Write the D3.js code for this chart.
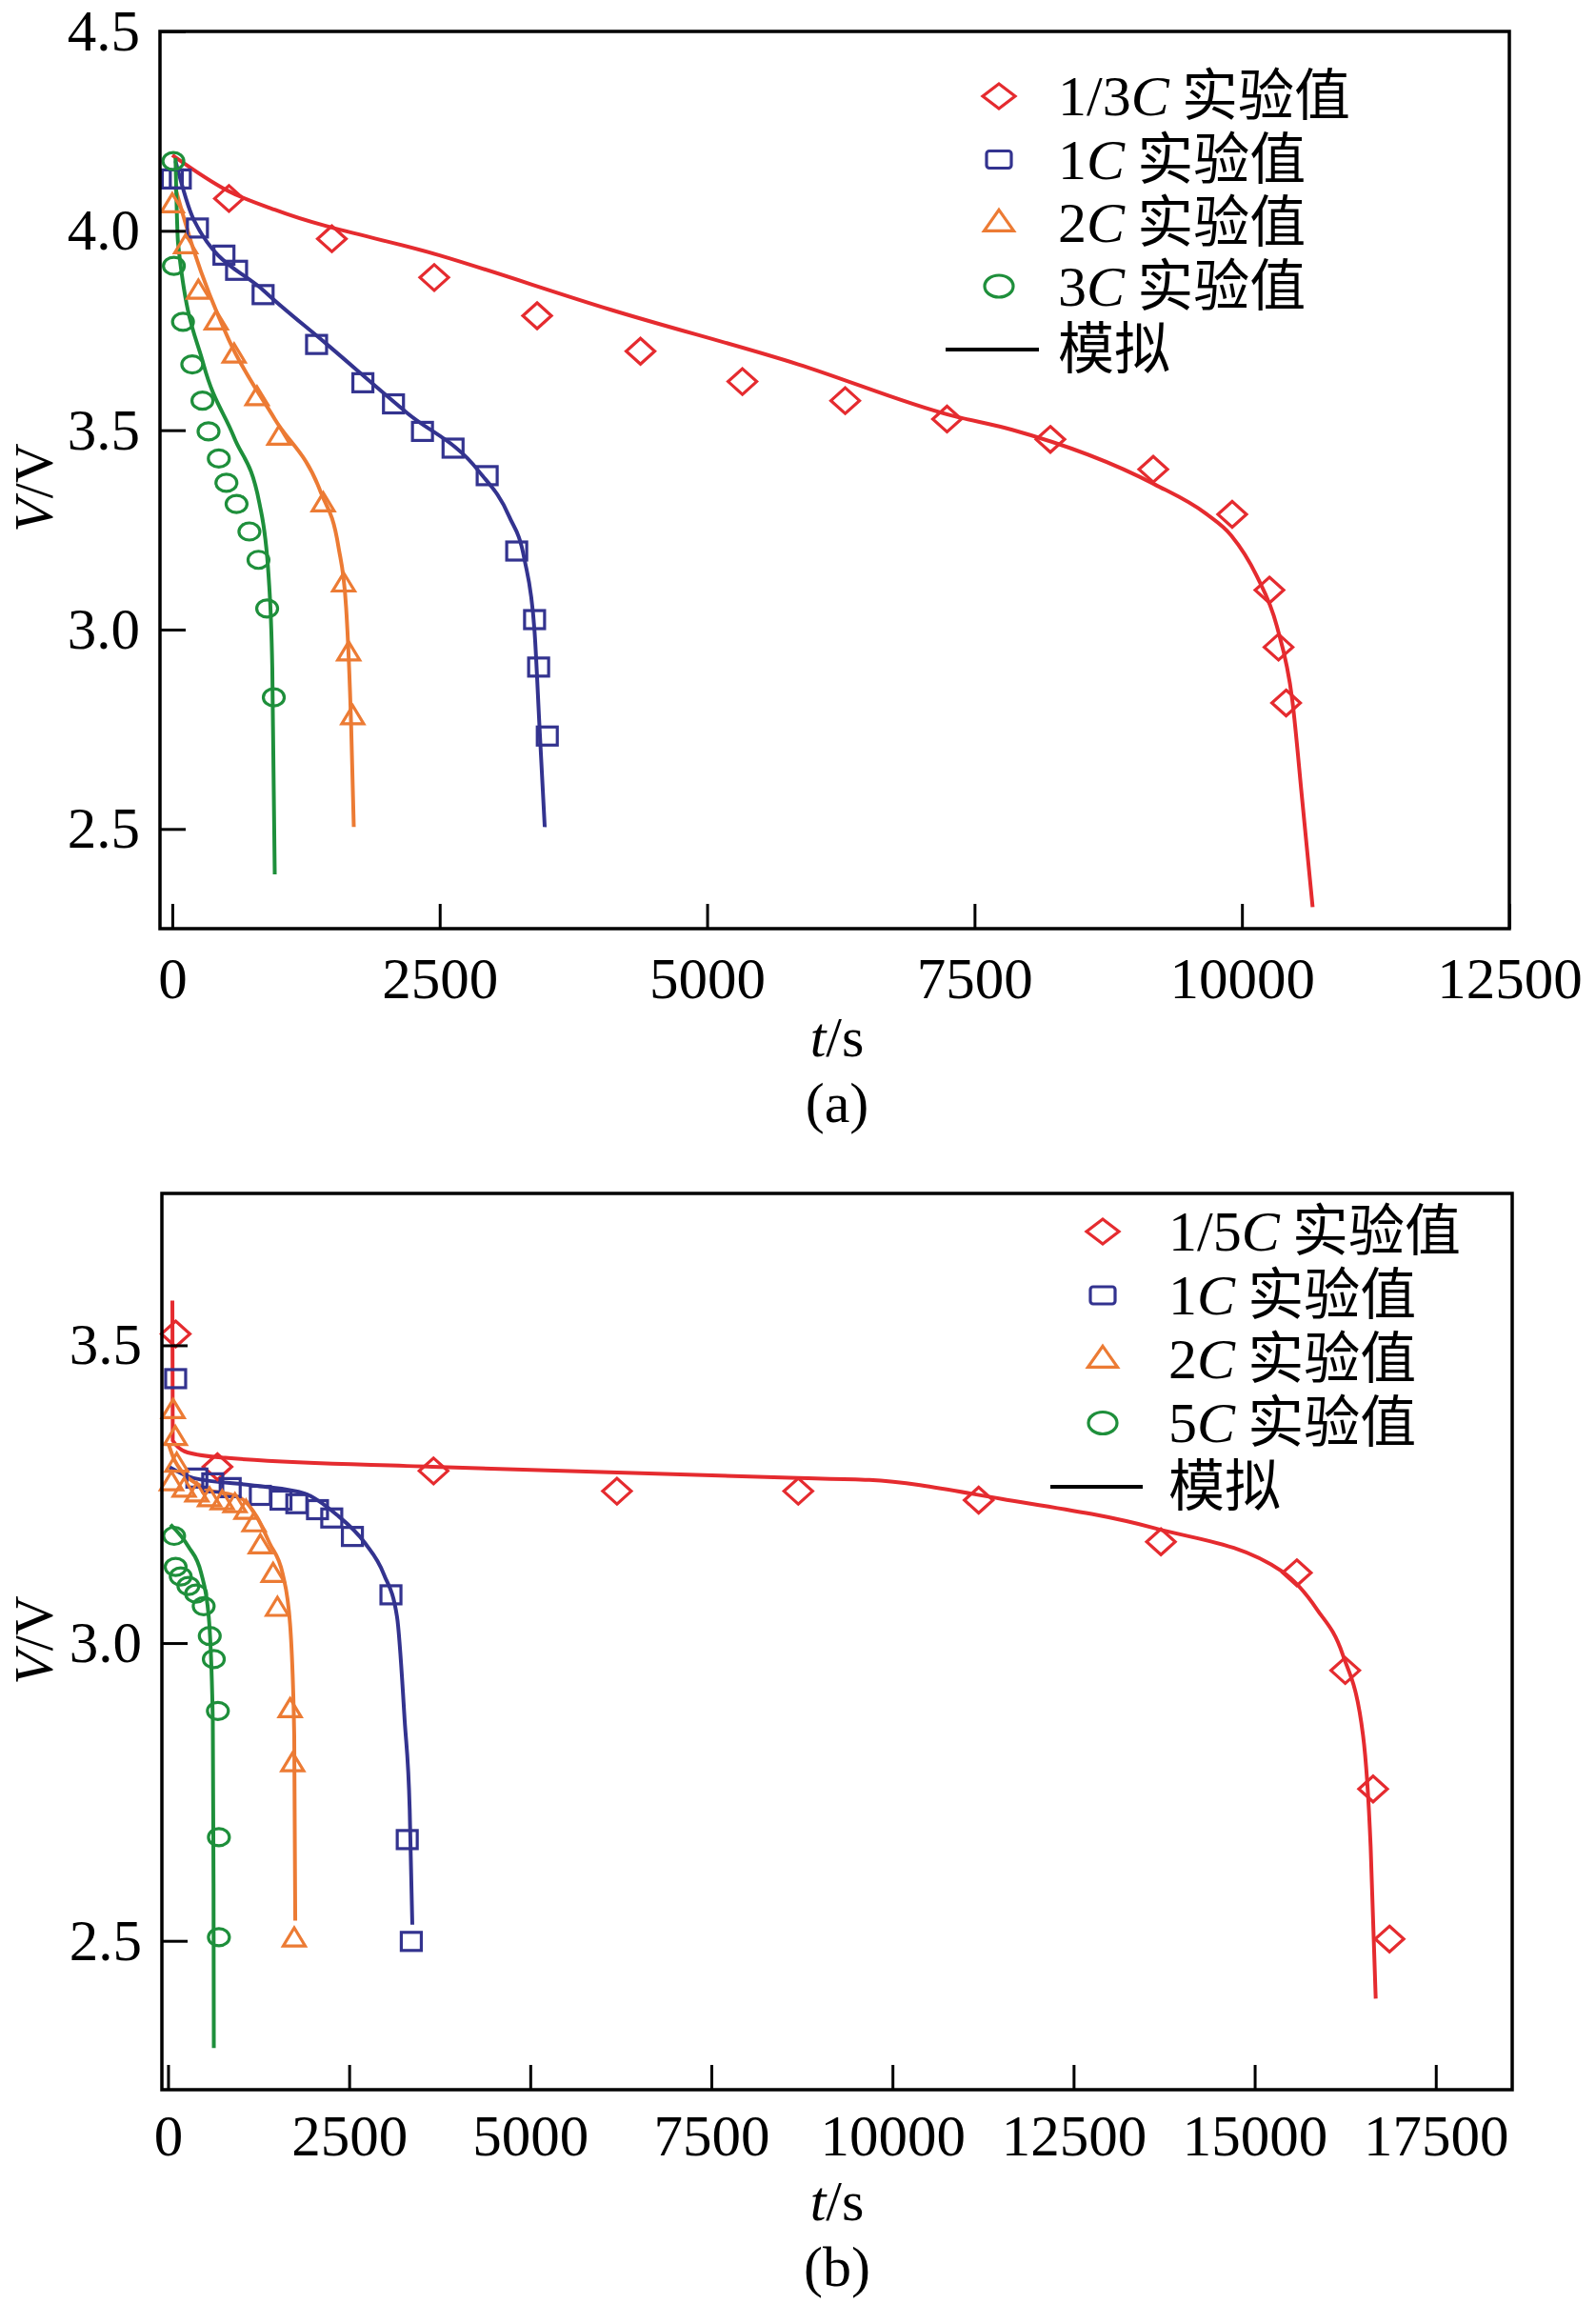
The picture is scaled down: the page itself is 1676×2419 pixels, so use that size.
<!DOCTYPE html>
<html>
<head>
<meta charset="utf-8">
<script src="https://cdn.jsdelivr.net/npm/d3@7"></script>
<style>
  body { margin: 0; background: #fff; }
  text { font-family: "Liberation Serif", "Noto Serif CJK SC", "Noto Sans CJK SC", serif; }
</style>
</head>
<body>
<div id="chart"></div>
<script>
const WIDTH = 1676;
const HEIGHT = 2419;

const RED = "#e52b2f";
const BLUE = "#33338f";
const ORANGE = "#ec7b34";
const GREEN = "#1e8f3b";

// ---- panel (a) ----
const aTicksX = [0, 2500, 5000, 7500, 10000, 12500];
const aTicksY = [2.5, 3.0, 3.5, 4.0, 4.5];
const aLegend = [["1/3", "C", " 实验值"], ["1", "C", " 实验值"], ["2", "C", " 实验值"], ["3", "C", " 实验值"]];

const aExp13 = [[530,4.081],[1492,3.980],[2449,3.883],[3411,3.787],[4377,3.698],[5330,3.622],[6291,3.574],
  [7243,3.528],[8209,3.477],[9171,3.402],[9909,3.289],[10257,3.099],[10342,2.956],[10413,2.816]];
const aSim13 = [[0,4.19],[530,4.099],[958,4.053],[2492,3.939],[4101,3.802],[5853,3.665],[7281,3.537],
  [7852,3.501],[9185,3.364],[9662,3.291],[9900,3.236],[10137,3.135],[10328,3.007],[10470,2.825],
  [10565,2.569],[10661,2.304]];

const aExp1 = [[0,4.13],[75,4.13],[235,4.007],[483,3.939],[601,3.901],[849,3.840],[1349,3.715],[1782,3.619],
  [2068,3.566],[2339,3.497],[2625,3.455],[2944,3.386],[3220,3.197],[3387,3.025],[3425,2.906],[3506,2.733]];
const aSim1 = [[30,4.175],[197,4.03],[863,3.848],[1434,3.718],[2197,3.543],[2863,3.398],[3149,3.284],
  [3291,3.178],[3387,2.995],[3434,2.751],[3482,2.505]];

const aExp2 = [[0,4.065],[125,3.962],[244,3.848],[411,3.771],[578,3.688],[792,3.581],[997,3.482],
  [1411,3.315],[1602,3.114],[1649,2.941],[1687,2.781]];
const aSim2 = [[30,4.106],[197,3.954],[530,3.726],[958,3.528],[1387,3.345],[1553,3.208],[1625,3.056],
  [1673,2.751],[1697,2.505]];

const aExp3 = [[10,4.175],[15,3.912],[100,3.772],[187,3.665],[282,3.574],[339,3.497],[435,3.429],[506,3.368],
  [601,3.315],[721,3.246],[806,3.175],[887,3.053],[949,2.830]];
const aSim3 = [[30,4.183],[54,3.969],[292,3.665],[578,3.482],[816,3.315],[901,3.132],[935,2.904],[958,2.386]];

// ---- panel (b) ----
const bTicksX = [0, 2500, 5000, 7500, 10000, 12500, 15000, 17500];
const bTicksY = [2.5, 3.0, 3.5];
const bLegend = [["1/5", "C", " 实验值"], ["1", "C", " 实验值"], ["2", "C", " 实验值"], ["5", "C", " 实验值"]];

const bExp15 = [[105,3.519],[682,3.296],[3665,3.289],[6197,3.255],[8700,3.255],[11190,3.240],[13706,3.170],
  [15582,3.118],[16250,2.954],[16635,2.755],[16861,2.503]];
const bSim15 = [[60,3.575],[65,3.34],[270,3.320],[790,3.311],[3650,3.296],[8697,3.277],[9680,3.274],
  [11507,3.242],[13615,3.193],[15370,3.121],[15863,3.056],[16214,2.981],[16496,2.845],[16601,2.658],[16671,2.403]];

const bExp1 = [[105,3.444],[398,3.277],[617,3.269],[858,3.261],[1274,3.248],[1559,3.240],[1778,3.234],
  [2063,3.224],[2260,3.210],[2545,3.179],[3077,3.081],[3302,2.670],[3358,2.499]];
const bSim1 = [[10,3.296],[350,3.277],[1233,3.264],[1888,3.251],[2323,3.216],[2718,3.168],[2981,3.115],
  [3161,3.044],[3267,2.869],[3336,2.720],[3372,2.527]];

const bExp2 = [[70,3.39],[100,3.345],[120,3.30],[47,3.269],[222,3.258],[398,3.250],[573,3.242],[748,3.237],
  [924,3.232],[1077,3.221],[1187,3.200],[1274,3.163],[1450,3.115],[1510,3.058],[1685,2.888],[1721,2.797],[1742,2.503]];
const bSim2 = [[10,3.333],[90,3.307],[492,3.261],[1010,3.243],[1230,3.211],[1400,3.168],[1585,3.115],
  [1685,3.031],[1742,2.845],[1756,2.534]];

const bExp5 = [[84,3.180],[105,3.128],[175,3.112],[281,3.096],[387,3.083],[492,3.062],[576,3.012],
  [632,2.973],[688,2.886],[702,2.674],[702,2.506]];
const bSim5 = [[34,3.199],[281,3.162],[456,3.118],[562,3.044],[618,2.869],[628,2.596],[632,2.32]];

// marker outlines, relative to the point
function markerPath(type, s) {
  if (type === "diamond") return `M0,${-s.h}L${s.w},0L0,${s.h}L${-s.w},0Z`;
  if (type === "triangle") return `M0,${-s.h * 0.62}L${s.w},${s.h * 0.38}L${-s.w},${s.h * 0.38}Z`;
  return null;
}

function drawMarker(g, type, color, s) {
  if (type === "square") {
    g.append("rect")
      .attr("x", -s.w).attr("y", -s.h)
      .attr("width", 2 * s.w).attr("height", 2 * s.h)
      .attr("rx", s.r || 0)
      .attr("fill", "none").attr("stroke", color).attr("stroke-width", 3.2);
  } else if (type === "circle") {
    g.append("ellipse")
      .attr("rx", s.w).attr("ry", s.h)
      .attr("fill", "none").attr("stroke", color).attr("stroke-width", 3.2);
  } else {
    g.append("path")
      .attr("d", markerPath(type, s))
      .attr("fill", "none").attr("stroke", color).attr("stroke-width", 3.2)
      .attr("stroke-linejoin", "miter");
  }
}

const plotSize = {
  diamond: { w: 15, h: 13.5 },
  square: { w: 10.5, h: 9.5 },
  triangle: { w: 11.5, h: 19 },
  circle: { w: 11, h: 9 }
};
const legendSize = {
  diamond: { w: 17, h: 13 },
  square: { w: 13, h: 9, r: 3 },
  triangle: { w: 15.5, h: 22 },
  circle: { w: 15, h: 11.5 }
};

const svg = d3.select("#chart").append("svg")
  .attr("width", WIDTH)
  .attr("height", HEIGHT);

svg.append("rect").attr("width", WIDTH).attr("height", HEIGHT).attr("fill", "#fff");

function drawPanel(p) {
  const x = d3.scaleLinear().domain(p.xDomain).range([p.left, p.right]);
  const y = d3.scaleLinear().domain(p.yDomain).range([p.bottom, p.top]);
  const g = svg.append("g");

  const line = d3.line()
    .x(d => x(d[0]))
    .y(d => y(d[1]))
    .curve(d3.curveMonotoneX);

  p.series.forEach(s => {
    g.append("path")
      .datum(s.sim)
      .attr("d", line)
      .attr("fill", "none")
      .attr("stroke", s.color)
      .attr("stroke-width", 4);
  });

  p.series.forEach(s => {
    s.exp.forEach(d => {
      const m = g.append("g").attr("transform", `translate(${x(d[0])},${y(d[1])})`);
      drawMarker(m, s.marker, s.color, plotSize[s.marker]);
    });
  });

  // axes with inward ticks
  const xAxis = g.append("g")
    .attr("transform", `translate(0,${p.bottom})`)
    .call(d3.axisBottom(x).tickValues(p.ticksX).tickSize(-26).tickPadding(p.xPad).tickFormat(d3.format("d")));
  const yAxis = g.append("g")
    .attr("transform", `translate(${p.left},0)`)
    .call(d3.axisLeft(y).tickValues(p.ticksY).tickSize(-27).tickPadding(21).tickFormat(d3.format(".1f")));

  [xAxis, yAxis].forEach(a => {
    a.select(".domain").remove();
    a.selectAll(".tick line").attr("stroke", "#000").attr("stroke-width", 3);
    a.selectAll(".tick text")
      .attr("fill", "#000")
      .style("font-family", "'Liberation Serif', serif")
      .style("font-size", "61px");
  });

  g.append("rect")
    .attr("x", p.left).attr("y", p.top)
    .attr("width", p.right - p.left).attr("height", p.bottom - p.top)
    .attr("fill", "none").attr("stroke", "#000").attr("stroke-width", 3.5);

  // axis titles
  const yt = g.append("text")
    .attr("transform", `translate(55,${p.yTitleY}) rotate(-90)`)
    .attr("text-anchor", "middle")
    .style("font-size", "58px");
  yt.append("tspan").attr("font-style", "italic").text("V");
  yt.append("tspan").text("/V");

  const xt = g.append("text")
    .attr("x", 879).attr("y", p.xTitleY)
    .attr("text-anchor", "middle")
    .style("font-size", "60px");
  xt.append("tspan").attr("font-style", "italic").text("t");
  xt.append("tspan").text("/s");

  g.append("text")
    .attr("x", 879).attr("y", p.captionY)
    .attr("text-anchor", "middle")
    .style("font-size", "60px")
    .text(p.caption);

  // legend
  const lg = g.append("g");
  p.legend.forEach((lab, i) => {
    const base = p.legBase + i * p.legStep;
    const s = p.series[i];
    const m = lg.append("g").attr("transform", `translate(${p.legMarkX},${base - 20})`);
    drawMarker(m, s.marker, s.color, legendSize[s.marker]);
    const t = lg.append("text").attr("x", p.legTextX).attr("y", base).style("font-size", "60px");
    t.append("tspan").text(lab[0]);
    t.append("tspan").attr("font-style", "italic").text(lab[1]);
    t.append("tspan").style("font-family", "'Noto Sans CJK SC', sans-serif").style("font-size", "59px").text(lab[2]);
  });
  const simBase = p.legBase + 4 * p.legStep;
  lg.append("line")
    .attr("x1", p.legLine[0]).attr("x2", p.legLine[1])
    .attr("y1", simBase - 20).attr("y2", simBase - 20)
    .attr("stroke", "#000").attr("stroke-width", 4);
  lg.append("text")
    .attr("x", p.legTextX).attr("y", simBase)
    .style("font-family", "'Noto Sans CJK SC', sans-serif")
    .style("font-size", "59px")
    .text("模拟");
}

drawPanel({
  left: 168, right: 1585, top: 33, bottom: 975,
  xDomain: [-115, 12500], yDomain: [2.25, 4.5],
  ticksX: aTicksX, ticksY: aTicksY, xPad: 30,
  yTitleY: 512, xTitleY: 1109, captionY: 1178, caption: "(a)",
  legend: aLegend, legBase: 121, legStep: 66.5, legMarkX: 1049, legTextX: 1111, legLine: [993, 1091],
  series: [
    { exp: aExp13, sim: aSim13, color: RED, marker: "diamond" },
    { exp: aExp1, sim: aSim1, color: BLUE, marker: "square" },
    { exp: aExp2, sim: aSim2, color: ORANGE, marker: "triangle" },
    { exp: aExp3, sim: aSim3, color: GREEN, marker: "circle" }
  ]
});

drawPanel({
  left: 170, right: 1588, top: 1253, bottom: 2194,
  xDomain: [-85, 18555], yDomain: [2.25, 3.755],
  ticksX: bTicksX, ticksY: bTicksY, xPad: 26,
  yTitleY: 1722, xTitleY: 2331, captionY: 2400, caption: "(b)",
  legend: bLegend, legBase: 1313, legStep: 67, legMarkX: 1158, legTextX: 1227, legLine: [1103, 1200],
  series: [
    { exp: bExp15, sim: bSim15, color: RED, marker: "diamond" },
    { exp: bExp1, sim: bSim1, color: BLUE, marker: "square" },
    { exp: bExp2, sim: bSim2, color: ORANGE, marker: "triangle" },
    { exp: bExp5, sim: bSim5, color: GREEN, marker: "circle" }
  ]
});
</script>
</body>
</html>
